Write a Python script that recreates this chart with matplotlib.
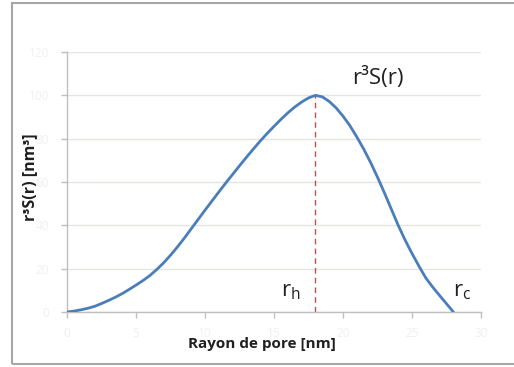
import matplotlib
matplotlib.use('Agg')
import matplotlib.pyplot as plt
from matplotlib.patches import Rectangle

# pore radius [nm] and r^3 S(r) [nm^3]
rayon = [0, 0.5, 1, 1.5, 2, 2.5, 3, 3.5, 4, 4.5, 5, 5.5, 6, 6.5, 7, 7.5, 8, 8.5,
         9, 9.5, 10, 10.5, 11, 11.5, 12, 12.5, 13, 13.5, 14, 14.5, 15, 15.5, 16,
         16.5, 17, 17.5, 18, 18.5, 19, 19.5, 20, 20.5, 21, 21.5, 22, 22.5, 23,
         23.5, 24, 24.5, 25, 25.5, 26, 26.5, 27, 27.5, 28]
r3s = [0, 0.4, 1, 1.7, 2.6, 3.9, 5.3, 6.8, 8.5, 10.4, 12.4, 14.5, 16.8, 19.6,
       22.7, 26.2, 30.0, 34.1, 38.4, 42.7, 47.0, 51.2, 55.4, 59.5, 63.5, 67.5,
       71.4, 75.2, 78.9, 82.4, 85.7, 88.9, 91.9, 94.6, 96.9, 98.8, 100, 99.3,
       97.2, 94.2, 90.4, 86, 80.8, 75.2, 69, 62.2, 55, 47.5, 40, 33.2, 27, 21.2,
       15.7, 11.5, 7.6, 3.8, 0]
r_h = 18
r_h_val = 100

x_ticks = [0, 5, 10, 15, 20, 25, 30]
y_ticks = [0, 20, 40, 60, 80, 100, 120]

plt.rcParams['font.family'] = ['Open Sans', 'DejaVu Sans']

fig = plt.figure(figsize=(5.14, 3.67), dpi=100)
ax = fig.add_axes([0.1304, 0.1499, 0.8054, 0.7084])

# chart frame
fig.patches.append(Rectangle((12 / 514, 3 / 367), 1.0, (364 - 3) / 367,
                             transform=fig.transFigure, fill=False,
                             edgecolor='#a6a6a6', linewidth=1.5))

ax.plot(rayon, r3s, color='#4a7ebb', linewidth=2.0, solid_capstyle='round',
        solid_joinstyle='round', zorder=3)
ax.plot([r_h, r_h], [0, r_h_val], color='#c0504d', linestyle=(0, (4, 3)), linewidth=1.0, zorder=2)

ax.set_xlim(0, 30)
ax.set_ylim(0, 120)
ax.set_xticks(x_ticks)
ax.set_yticks(y_ticks)
ax.grid(axis='y', color='#e4e4e0', linewidth=1.0)
ax.set_axisbelow(True)

for side in ['top', 'right']:
    ax.spines[side].set_visible(False)
for side in ['left', 'bottom']:
    ax.spines[side].set_color('#bfbfbf')
    ax.spines[side].set_linewidth(1.0)

ax.tick_params(axis='both', colors='#bfbfbf', labelcolor='#f0f0f0', labelsize=8.5,
               length=4, width=1.0)
ax.tick_params(axis='y', pad=9)
ax.tick_params(axis='x', pad=7)

ax.set_xlabel('Rayon de pore [nm]', fontsize=11, fontweight='bold', color='#202020')
ax.set_ylabel('r³S(r) [nm³]', fontsize=11.5, fontweight='bold', color='#202020')
ax.xaxis.set_label_coords(0.47, -0.095)
ax.yaxis.set_label_coords(-0.07, 0.52)

ax.text(22.5, 108, 'r³S(r)', fontsize=16, color='#202020', ha='center', va='center')
ax.text(16.2, 9.5, 'r$_\\mathregular{h}$', fontsize=16, color='#202020', ha='center', va='center')
ax.text(28.6, 9.5, 'r$_\\mathregular{c}$', fontsize=16, color='#202020', ha='center', va='center')

fig.savefig('out.png', dpi=100)
